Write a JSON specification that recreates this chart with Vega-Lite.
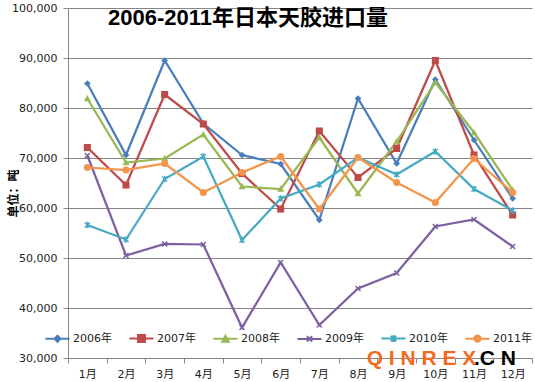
{
  "$schema": "https://vega.github.io/schema/vega-lite/v6.json",
  "autosize": "none",
  "width": 464,
  "height": 350,
  "padding": {"left": 68, "top": 8, "right": 3, "bottom": 24},
  "background": "white",
  "title": {
    "text": "2006-2011年日本天胶进口量",
    "anchor": "start",
    "frame": "group",
    "orient": "top",
    "dx": 40,
    "offset": -38,
    "baseline": "middle",
    "font": "Liberation Sans, Noto Sans CJK SC",
    "fontSize": 22,
    "fontWeight": "bold",
    "color": "#000000"
  },
  "config": {
    "view": {"stroke": null},
    "axis": {
      "labelFont": "DejaVu Sans, Noto Sans CJK SC",
      "labelFontSize": 11,
      "labelColor": "#222222",
      "domainColor": "#868686",
      "tickColor": "#868686",
      "gridColor": "#868686",
      "gridWidth": 1,
      "tickSize": 5
    }
  },
  "data": {
    "values": [
      {"month": "1月", "series": "2006年", "value": 84900},
      {"month": "2月", "series": "2006年", "value": 70600},
      {"month": "3月", "series": "2006年", "value": 89500},
      {"month": "4月", "series": "2006年", "value": 76900},
      {"month": "5月", "series": "2006年", "value": 70600},
      {"month": "6月", "series": "2006年", "value": 68800},
      {"month": "7月", "series": "2006年", "value": 57600},
      {"month": "8月", "series": "2006年", "value": 81900},
      {"month": "9月", "series": "2006年", "value": 68900},
      {"month": "10月", "series": "2006年", "value": 85700},
      {"month": "11月", "series": "2006年", "value": 73600},
      {"month": "12月", "series": "2006年", "value": 61900},
      {"month": "1月", "series": "2007年", "value": 72100},
      {"month": "2月", "series": "2007年", "value": 64600},
      {"month": "3月", "series": "2007年", "value": 82700},
      {"month": "4月", "series": "2007年", "value": 76800},
      {"month": "5月", "series": "2007年", "value": 66900},
      {"month": "6月", "series": "2007年", "value": 59800},
      {"month": "7月", "series": "2007年", "value": 75400},
      {"month": "8月", "series": "2007年", "value": 66100},
      {"month": "9月", "series": "2007年", "value": 71900},
      {"month": "10月", "series": "2007年", "value": 89500},
      {"month": "11月", "series": "2007年", "value": 70600},
      {"month": "12月", "series": "2007年", "value": 58600},
      {"month": "1月", "series": "2008年", "value": 81900},
      {"month": "2月", "series": "2008年", "value": 69100},
      {"month": "3月", "series": "2008年", "value": 69900},
      {"month": "4月", "series": "2008年", "value": 74700},
      {"month": "5月", "series": "2008年", "value": 64300},
      {"month": "6月", "series": "2008年", "value": 63800},
      {"month": "7月", "series": "2008年", "value": 74100},
      {"month": "8月", "series": "2008年", "value": 62900},
      {"month": "9月", "series": "2008年", "value": 73300},
      {"month": "10月", "series": "2008年", "value": 85100},
      {"month": "11月", "series": "2008年", "value": 75100},
      {"month": "12月", "series": "2008年", "value": 63600},
      {"month": "1月", "series": "2009年", "value": 70500},
      {"month": "2月", "series": "2009年", "value": 50500},
      {"month": "3月", "series": "2009年", "value": 52800},
      {"month": "4月", "series": "2009年", "value": 52700},
      {"month": "5月", "series": "2009年", "value": 36100},
      {"month": "6月", "series": "2009年", "value": 49100},
      {"month": "7月", "series": "2009年", "value": 36600},
      {"month": "8月", "series": "2009年", "value": 43900},
      {"month": "9月", "series": "2009年", "value": 47000},
      {"month": "10月", "series": "2009年", "value": 56300},
      {"month": "11月", "series": "2009年", "value": 57700},
      {"month": "12月", "series": "2009年", "value": 52300},
      {"month": "1月", "series": "2010年", "value": 56600},
      {"month": "2月", "series": "2010年", "value": 53700},
      {"month": "3月", "series": "2010年", "value": 65800},
      {"month": "4月", "series": "2010年", "value": 70300},
      {"month": "5月", "series": "2010年", "value": 53600},
      {"month": "6月", "series": "2010年", "value": 61900},
      {"month": "7月", "series": "2010年", "value": 64700},
      {"month": "8月", "series": "2010年", "value": 70100},
      {"month": "9月", "series": "2010年", "value": 66700},
      {"month": "10月", "series": "2010年", "value": 71300},
      {"month": "11月", "series": "2010年", "value": 63800},
      {"month": "12月", "series": "2010年", "value": 59500},
      {"month": "1月", "series": "2011年", "value": 68100},
      {"month": "2月", "series": "2011年", "value": 67600},
      {"month": "3月", "series": "2011年", "value": 68900},
      {"month": "4月", "series": "2011年", "value": 63100},
      {"month": "5月", "series": "2011年", "value": 67100},
      {"month": "6月", "series": "2011年", "value": 70300},
      {"month": "7月", "series": "2011年", "value": 59800},
      {"month": "8月", "series": "2011年", "value": 70100},
      {"month": "9月", "series": "2011年", "value": 65100},
      {"month": "10月", "series": "2011年", "value": 61100},
      {"month": "11月", "series": "2011年", "value": 69900},
      {"month": "12月", "series": "2011年", "value": 63100}
    ]
  },
  "encoding": {
    "x": {
      "field": "month",
      "type": "ordinal",
      "sort": null,
      "scale": {
        "type": "band",
        "domain": ["1月", "2月", "3月", "4月", "5月", "6月", "7月", "8月", "9月", "10月", "11月", "12月"],
        "paddingInner": 0,
        "paddingOuter": 0
      },
      "axis": {
        "title": null,
        "labelAngle": 0,
        "tickBand": "extent",
        "labelPadding": 5,
        "grid": false
      }
    },
    "y": {
      "field": "value",
      "type": "quantitative",
      "scale": {"domain": [30000, 100000], "nice": false, "zero": false},
      "axis": {
        "values": [30000, 40000, 50000, 60000, 70000, 80000, 90000, 100000],
        "format": ",d",
        "grid": true,
        "labelPadding": 6,
        "title": "单位：吨",
        "titleFont": "Noto Sans CJK SC",
        "titleFontSize": 12,
        "titleFontWeight": "bold",
        "titleColor": "#000000",
        "titleAngle": -90,
        "titleAlign": "center",
        "titleBaseline": "middle",
        "titleX": -55,
        "titleY": 185
      }
    }
  },
  "layer": [
    {
      "mark": {"type": "line", "strokeWidth": 2.25},
      "encoding": {
        "color": {
          "field": "series",
          "type": "nominal",
          "scale": {
            "domain": ["2006年", "2007年", "2008年", "2009年", "2010年", "2011年"],
            "range": ["#4A7EBB", "#BE4B48", "#98B954", "#7D60A0", "#46AAC5", "#F3954A"]
          },
          "legend": {
            "title": null,
            "orient": "none",
            "direction": "horizontal",
            "columns": 6,
            "legendX": -23,
            "legendY": 318,
            "padding": 0,
            "symbolSize": 529,
            "symbolStrokeWidth": 2,
            "labelOffset": 3,
            "columnPadding": 13,
            "labelFont": "DejaVu Sans, Noto Sans CJK SC",
            "labelFontSize": 11,
            "labelColor": "#222222",
            "encode": {
              "symbols": {
                "update": {
                  "shape": {"signal": "['M-1.05,0L1.05,0M0,-0.26L0.26,0L0,0.26L-0.26,0Z','M-1.05,0L1.05,0M-0.3,-0.3L0.3,-0.3L0.3,0.3L-0.3,0.3Z','M-1.05,0L1.05,0M0,-0.28L0.28,0.24L-0.28,0.24Z','M-1.05,0L1.05,0M-0.23,-0.23L0.23,0.23M-0.23,0.23L0.23,-0.23','M-1.05,0L1.05,0M-0.23,-0.23L0.23,0.23M-0.23,0.23L0.23,-0.23M0,-0.3L0,0.3','M-1.05,0L1.05,0M0.28,0A0.28,0.28,0,1,1,-0.28,0A0.28,0.28,0,1,1,0.28,0Z'][indexof(['2006年','2007年','2008年','2009年','2010年','2011年'], datum.value)]"},
                  "fill": {"scale": "color", "field": "value"},
                  "stroke": {"scale": "color", "field": "value"},
                  "strokeWidth": {"value": 2},
                  "opacity": {"value": 1}
                }
              }
            }
          }
        }
      }
    },
    {
      "transform": [{"filter": "datum.series === '2006年'"}],
      "mark": {"type": "point", "filled": true, "size": 45, "opacity": 1, "shape": "diamond", "color": "#4A7EBB"}
    },
    {
      "transform": [{"filter": "datum.series === '2007年'"}],
      "mark": {"type": "point", "filled": true, "size": 50, "opacity": 1, "shape": "square", "color": "#BE4B48"}
    },
    {
      "transform": [{"filter": "datum.series === '2008年'"}],
      "mark": {"type": "point", "filled": true, "size": 50, "opacity": 1, "shape": "M0,-1L1,0.8L-1,0.8Z", "color": "#98B954"}
    },
    {
      "transform": [{"filter": "datum.series === '2009年'"}],
      "mark": {"type": "point", "filled": false, "size": 45, "opacity": 1, "strokeWidth": 1.5, "shape": "M-0.75,-0.75L0.75,0.75M-0.75,0.75L0.75,-0.75", "color": "#7D60A0"}
    },
    {
      "transform": [{"filter": "datum.series === '2010年'"}],
      "mark": {"type": "point", "filled": false, "size": 45, "opacity": 1, "strokeWidth": 1.5, "shape": "M-0.75,-0.75L0.75,0.75M-0.75,0.75L0.75,-0.75M0,-1L0,1", "color": "#46AAC5"}
    },
    {
      "transform": [{"filter": "datum.series === '2011年'"}],
      "mark": {"type": "point", "filled": true, "size": 50, "opacity": 1, "shape": "circle", "color": "#F3954A"}
    },
    {
      "data": {"values": [{"month": "9月", "value": 30000, "label": "Q I N R E X"}]},
      "mark": {
        "type": "text",
        "align": "left",
        "baseline": "middle",
        "font": "Liberation Sans",
        "fontSize": 21,
        "fontWeight": "bold",
        "dx": -30,
        "dy": 1,
        "color": "#F26B1D"
      },
      "encoding": {"text": {"field": "label"}}
    },
    {
      "data": {"values": [{"month": "11月", "value": 30000, "label": ".C N"}]},
      "mark": {
        "type": "text",
        "align": "left",
        "baseline": "middle",
        "font": "Liberation Sans",
        "fontSize": 21,
        "fontWeight": "bold",
        "dx": 0,
        "dy": 1,
        "color": "#000000"
      },
      "encoding": {"text": {"field": "label"}}
    }
  ]
}
